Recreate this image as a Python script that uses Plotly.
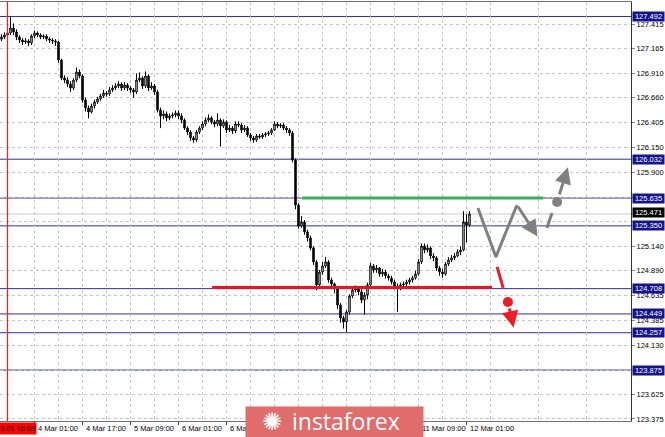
import plotly.graph_objects as go

# ---------------- data ----------------
closes = [
    127.282, 127.302, 127.323, 127.374, 127.333, 127.282, 127.251, 127.231, 127.241, 127.221,
    127.292, 127.323, 127.302, 127.282, 127.292, 127.262, 127.251, 127.241, 127.231, 127.047,
    126.863, 126.842, 126.801, 126.760, 126.842, 126.924, 126.883, 126.638, 126.556, 126.515,
    126.576, 126.617, 126.648, 126.679, 126.709, 126.699, 126.740, 126.760, 126.781, 126.801,
    126.760, 126.791, 126.760, 126.740, 126.720, 126.842, 126.863, 126.781, 126.883, 126.760,
    126.781, 126.720, 126.535, 126.474, 126.495, 126.454, 126.474, 126.484, 126.505, 126.474,
    126.433, 126.351, 126.310, 126.249, 126.229, 126.310, 126.351, 126.392, 126.433, 126.454,
    126.413, 126.392, 126.433, 126.372, 126.413, 126.331, 126.351, 126.321, 126.392, 126.382,
    126.331, 126.351, 126.280, 126.249, 126.229, 126.269, 126.259, 126.280, 126.290, 126.300,
    126.331, 126.392, 126.372, 126.382, 126.351, 126.331, 126.300, 126.024, 125.564, 125.349,
    125.390, 125.288, 125.226, 125.124, 124.981, 124.746, 124.878, 124.940, 124.981, 124.797,
    124.756, 124.715, 124.541, 124.408, 124.367, 124.469, 124.633, 124.694, 124.705, 124.674,
    124.592, 124.643, 124.746, 124.940, 124.899, 124.919, 124.858, 124.878, 124.838, 124.817,
    124.776, 124.735, 124.715, 124.746, 124.756, 124.776, 124.797, 124.817, 124.858, 124.981,
    125.144, 125.103, 125.124, 125.042, 125.022, 124.919, 124.878, 124.858, 124.960, 125.001,
    125.022, 125.042, 125.083, 125.103, 125.390, 125.359, 125.471,
]
highs = [
    127.31, 127.33, 127.36, 127.49, 127.42, 127.36, 127.30, 127.27, 127.27, 127.26,
    127.31, 127.35, 127.34, 127.32, 127.31, 127.31, 127.28, 127.27, 127.26, 127.24,
    127.06, 126.89, 126.87, 126.83, 126.86, 126.97, 126.95, 126.90, 126.66, 126.58,
    126.60, 126.64, 126.67, 126.70, 126.74, 126.73, 126.77, 126.79, 126.81, 126.83,
    126.82, 126.82, 126.81, 126.78, 126.76, 126.91, 126.92, 126.88, 126.93, 126.90,
    126.82, 126.80, 126.74, 126.56, 126.53, 126.52, 126.50, 126.51, 126.53, 126.53,
    126.50, 126.45, 126.37, 126.33, 126.27, 126.33, 126.37, 126.42, 126.46, 126.49,
    126.47, 126.43, 126.50, 126.45, 126.44, 126.43, 126.38, 126.37, 126.42, 126.42,
    126.40, 126.38, 126.37, 126.30, 126.27, 126.29, 126.29, 126.30, 126.31, 126.32,
    126.35, 126.42, 126.41, 126.40, 126.40, 126.37, 126.35, 126.32, 126.04, 125.58,
    125.45, 125.41, 125.31, 125.25, 125.14, 125.00, 124.90, 124.98, 125.03, 125.00,
    124.82, 124.77, 124.73, 124.56, 124.43, 124.49, 124.65, 124.72, 124.74, 124.73,
    124.70, 124.67, 124.77, 124.97, 124.96, 124.95, 124.93, 124.91, 124.90, 124.86,
    124.84, 124.80, 124.76, 124.77, 124.78, 124.80, 124.82, 124.84, 124.89, 125.01,
    125.17, 125.17, 125.16, 125.14, 125.07, 125.04, 124.94, 124.91, 124.98, 125.03,
    125.05, 125.07, 125.11, 125.14, 125.50, 125.47, 125.50,
]
lows = [
    127.24, 127.26, 127.28, 127.30, 127.30, 127.25, 127.22, 127.20, 127.21, 127.19,
    127.20, 127.27, 127.28, 127.26, 127.26, 127.24, 127.22, 127.21, 127.19, 127.02,
    126.84, 126.81, 126.77, 126.72, 126.74, 126.82, 126.86, 126.61, 126.52, 126.45,
    126.50, 126.55, 126.60, 126.63, 126.66, 126.67, 126.68, 126.72, 126.74, 126.76,
    126.73, 126.74, 126.73, 126.71, 126.66, 126.70, 126.82, 126.75, 126.76, 126.73,
    126.74, 126.69, 126.51, 126.35, 126.44, 126.42, 126.43, 126.45, 126.46, 126.44,
    126.40, 126.33, 126.28, 126.22, 126.20, 126.21, 126.29, 126.33, 126.37, 126.41,
    126.39, 126.36, 126.37, 126.16, 126.35, 126.30, 126.31, 126.29, 126.30, 126.36,
    126.30, 126.31, 126.26, 126.22, 126.20, 126.21, 126.24, 126.24, 126.26, 126.27,
    126.28, 126.32, 126.35, 126.35, 126.33, 126.30, 126.27, 126.00, 125.52, 125.32,
    125.33, 125.26, 125.19, 125.10, 124.95, 124.69, 124.72, 124.85, 124.92, 124.77,
    124.72, 124.66, 124.50, 124.36, 124.30, 124.26, 124.44, 124.61, 124.67, 124.64,
    124.56, 124.44, 124.60, 124.72, 124.87, 124.87, 124.83, 124.83, 124.81, 124.79,
    124.75, 124.70, 124.47, 124.69, 124.72, 124.73, 124.75, 124.77, 124.80, 124.84,
    124.96, 125.07, 125.08, 125.01, 124.99, 124.89, 124.84, 124.82, 124.84, 124.94,
    124.98, 125.00, 125.03, 125.05, 125.09, 125.18, 125.34,
]
first_open = 127.26
opens = [first_open] + closes[:-1]
bar_index = list(range(len(closes)))

# axis ticks
price_ticks = [127.415, 127.165, 126.910, 126.660, 126.405, 126.150, 125.900, 125.645,
               125.390, 125.140, 124.890, 124.635, 124.385, 124.130, 123.875, 123.625, 123.375]
price_tick_text = ["127.415", "127.165", "126.910", "126.660", "126.405", "126.150", "125.900", "",
                   "", "125.140", "124.890", "124.635", "124.385", "124.130", "", "123.625", "123.375"]
time_tick_bars = [11, 27, 43, 59, 75, 91, 107, 123, 139, 155]
time_tick_labels = ["4 Mar 01:00", "4 Mar 17:00", "5 Mar 09:00", "6 Mar 01:00", "6 Mar 17:00",
                    "7 Mar 09:00", "8 Mar 01:00", "8 Mar 17:00", "11 Mar 09:00", "12 Mar 01:00"]
grid_minor_bars = [19, 35, 51, 67, 83, 99, 115, 131, 147, 163, 179, 195]

# horizontal levels
levels = [127.492, 126.032, 125.635, 125.350, 124.708, 124.449, 124.257, 123.875]
current_price = 125.471

# analysis markings
green_level = 125.635
green_span = [100.2, 180.5]
red_level = 124.72
red_span = [70.2, 163.5]
gray_zigzag_x = [158.8, 164.8, 171.8]
gray_zigzag_y = [125.533, 125.032, 125.564]
gray_arrow1 = dict(tail=(171.8, 125.564), head=(178.7, 125.24))
gray_dash_x = [181.8, 183.5]
gray_dash_y = [125.329, 125.482]
gray_dot = (185.2, 125.595)
gray_arrow2 = dict(tail=(185.8, 125.656), head=(188.8, 125.95))
red_seg_x = [165.2, 167.2]
red_seg_y = [124.930, 124.715]
red_dot = (168.8, 124.572)
red_arrow = dict(tail=(169.2, 124.52), head=(170.7, 124.31))
cursor_bar = 2
cursor_label = "2019.03.01 16:00"

# ---------------- figure ----------------
FONT = "Liberation Sans"
fig = go.Figure()

fig.add_trace(go.Candlestick(
    x=bar_index, open=opens, high=highs, low=lows, close=closes,
    increasing=dict(line=dict(color="#000000", width=1), fillcolor="#ffffff"),
    decreasing=dict(line=dict(color="#000000", width=1), fillcolor="#000000"),
    whiskerwidth=0, showlegend=False, hoverinfo="skip",
))

GRAY = "#808080"
# cursor line (red vertical)
fig.add_trace(go.Scatter(x=[cursor_bar, cursor_bar], y=[123.2, 127.8], mode="lines",
                         line=dict(color="#ff1a1a", width=1.2), showlegend=False, hoverinfo="skip"))
fig.add_trace(go.Scatter(x=green_span, y=[green_level, green_level], mode="lines",
                         line=dict(color="#3cab5a", width=3), showlegend=False, hoverinfo="skip"))
fig.add_trace(go.Scatter(x=red_span, y=[red_level, red_level], mode="lines",
                         line=dict(color="#e8141e", width=3), showlegend=False, hoverinfo="skip"))
fig.add_trace(go.Scatter(x=gray_zigzag_x, y=gray_zigzag_y, mode="lines",
                         line=dict(color=GRAY, width=3), showlegend=False, hoverinfo="skip"))
fig.add_trace(go.Scatter(x=gray_dash_x, y=gray_dash_y, mode="lines",
                         line=dict(color=GRAY, width=3), showlegend=False, hoverinfo="skip"))
fig.add_trace(go.Scatter(x=[gray_dot[0]], y=[gray_dot[1]], mode="markers",
                         marker=dict(color=GRAY, size=10), showlegend=False, hoverinfo="skip"))
fig.add_trace(go.Scatter(x=red_seg_x, y=red_seg_y, mode="lines",
                         line=dict(color="#ee1c25", width=3), showlegend=False, hoverinfo="skip"))
fig.add_trace(go.Scatter(x=[red_dot[0]], y=[red_dot[1]], mode="markers",
                         marker=dict(color="#ee1c25", size=10), showlegend=False, hoverinfo="skip"))

shapes = []
LEVEL_COLOR = "#2e2e9e"
for lv in levels:
    shapes.append(dict(type="line", xref="paper", x0=0, x1=1, yref="y", y0=lv, y1=lv,
                       line=dict(color=LEVEL_COLOR, width=1), layer="below"))
shapes.append(dict(type="line", xref="paper", x0=0, x1=1, yref="y", y0=current_price, y1=current_price,
                   line=dict(color="#c8c8c8", width=1), layer="below"))

annotations = []
for a, col in [(gray_arrow1, GRAY), (gray_arrow2, GRAY), (red_arrow, "#ee1c25")]:
    annotations.append(dict(x=a["head"][0], y=a["head"][1], ax=a["tail"][0], ay=a["tail"][1],
                            xref="x", yref="y", axref="x", ayref="y", text="", showarrow=True,
                            arrowhead=2, arrowsize=1.1, arrowwidth=3, arrowcolor=col, standoff=0))

# time labels
for b, lab in zip(time_tick_bars, time_tick_labels):
    annotations.append(dict(x=b, y=0, xref="x", yref="paper", xanchor="left", yanchor="top",
                            xshift=1, yshift=-1, text=lab, showarrow=False,
                            font=dict(family=FONT, size=7.5, color="#000000")))

# cursor time label
annotations.append(dict(x=cursor_bar, y=0, xref="x", yref="paper", xanchor="right", yanchor="top",
                        xshift=29, yshift=-1, text=cursor_label, showarrow=False,
                        bgcolor="#ff0000", borderpad=1,
                        font=dict(family=FONT, size=7.5, color="#000000")))

# level labels on the price axis
for lv in levels:
    annotations.append(dict(x=1, y=lv, xref="paper", yref="y", xanchor="left", yanchor="middle",
                            xshift=1, text="%.3f" % lv, showarrow=False, bgcolor="#14148c",
                            borderpad=0, width=31, align="center",
                            font=dict(family=FONT, size=7.5, color="#ffffff")))
annotations.append(dict(x=1, y=current_price, xref="paper", yref="y", xanchor="left", yanchor="middle",
                        xshift=1, yshift=2, text="%.3f" % current_price, showarrow=False, bgcolor="#000000",
                        borderpad=0, width=31, align="center",
                        font=dict(family=FONT, size=7.5, color="#ffffff")))

# watermark banner
annotations.append(dict(x=245 / 631, y=(421 - 406) / 419, xref="paper", yref="paper",
                        xanchor="left", yanchor="top", text=" ", showarrow=False,
                        width=177, height=32, bgcolor="#e06c6c", borderpad=0))
annotations.append(dict(x=272 / 631, y=(421 - 422) / 419, xref="paper", yref="paper",
                        xanchor="center", yanchor="middle", text="✺", showarrow=False,
                        font=dict(family="DejaVu Sans", size=24, color="#ffffff")))
annotations.append(dict(x=346 / 631, y=(421 - 421) / 419, xref="paper", yref="paper",
                        xanchor="center", yanchor="middle", text="instaforex", showarrow=False,
                        font=dict(family="Open Sans", size=23, color="#ffffff")))

fig.update_layout(
    width=665, height=437,
    margin=dict(l=0, r=34, t=2, b=16),
    paper_bgcolor="#ffffff", plot_bgcolor="#ffffff",
    showlegend=False,
    shapes=shapes, annotations=annotations,
    xaxis=dict(range=[-0.5, 209.83], rangeslider=dict(visible=False),
               tickvals=time_tick_bars, showticklabels=False, ticks="outside", ticklen=3,
               tickcolor="#444444", showgrid=True, gridcolor="#c4c4c4", griddash="dot", gridwidth=1,
               minor=dict(tickvals=grid_minor_bars, showgrid=True, gridcolor="#c4c4c4",
                          griddash="dot", ticks=""),
               showline=True, linecolor="#6e6e6e", linewidth=1, mirror=True, zeroline=False),
    yaxis=dict(range=[123.354, 127.640], side="right", tickvals=price_ticks, ticktext=price_tick_text,
               ticks="outside", ticklen=3, tickcolor="#888888",
               tickfont=dict(family=FONT, size=7.5, color="#000000"),
               showgrid=True, gridcolor="#c4c4c4", griddash="dot", gridwidth=1,
               showline=True, linecolor="#333333", linewidth=1, zeroline=False),
    font=dict(family=FONT, size=8),
)

fig.write_html("out.html", config={"staticPlot": True},
               post_script="document.body.style.margin='0';document.body.style.padding='0';")
